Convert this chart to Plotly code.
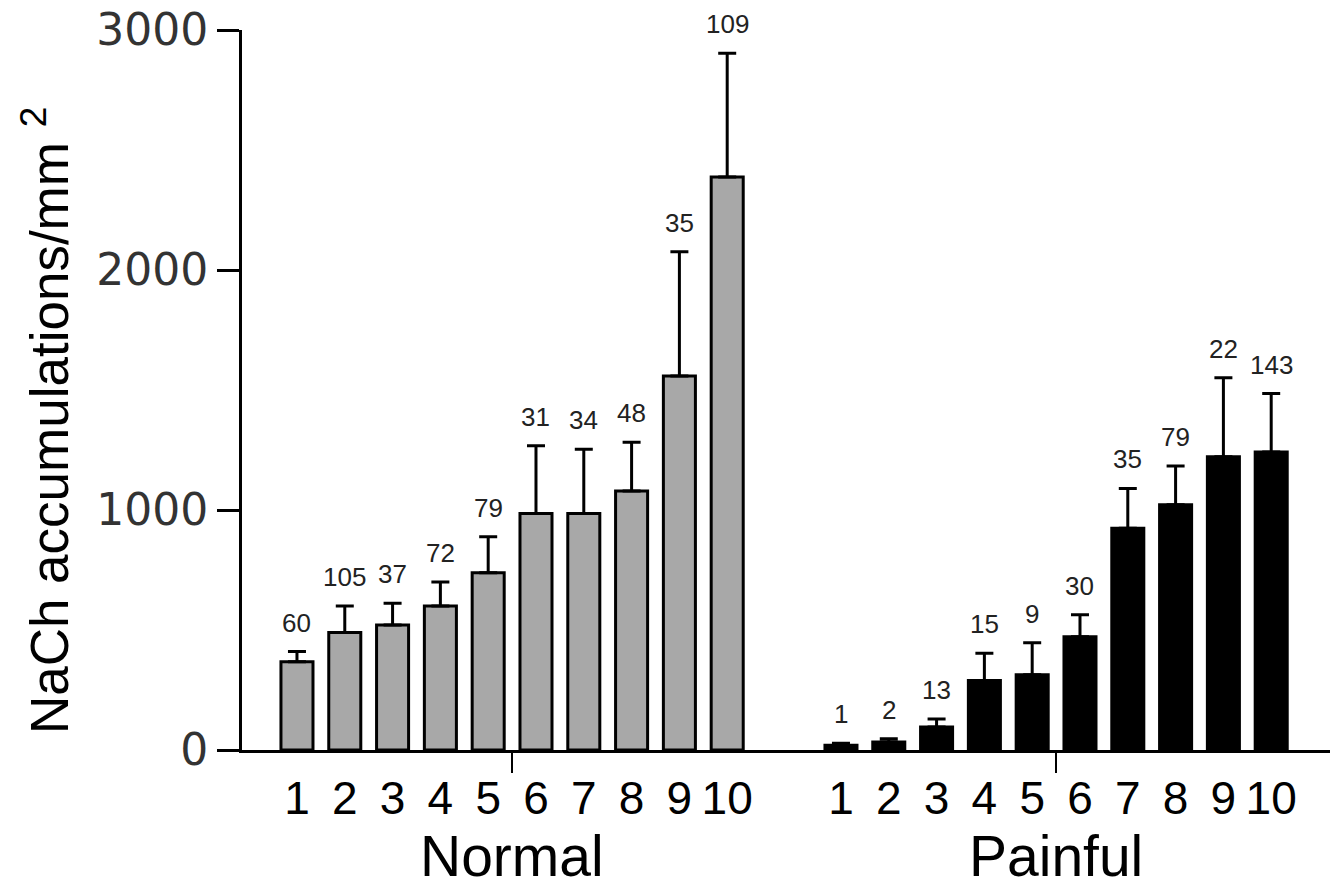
import plotly.graph_objects as go

# ---- data ----
categories = ["1", "2", "3", "4", "5", "6", "7", "8", "9", "10"]
groups = ["Normal", "Painful"]
normal_mean = [368, 490, 521, 600, 739, 985, 985, 1079, 1558, 2387]
normal_sem = [42, 110, 90, 100, 150, 283, 268, 203, 518, 516]
normal_n = [60, 105, 37, 72, 79, 31, 34, 48, 35, 109]
painful_mean = [20, 33, 96, 290, 314, 472, 924, 1022, 1222, 1242]
painful_sem = [8, 14, 33, 113, 133, 92, 166, 161, 329, 243]
painful_n = [1, 2, 13, 15, 9, 30, 35, 79, 22, 143]
y_ticks = [0, 1000, 2000, 3000]

# ---- positions ----
group_gap = 11.38
x_norm = [i + 1 for i in range(len(categories))]
x_pain = [x + group_gap for x in x_norm]
centers = [sum(x_norm) / len(x_norm), sum(x_pain) / len(x_pain)]
xrange = [-0.15, x_pain[-1] + 1.23]

arial = "Liberation Sans, Arial, sans-serif"

fig = go.Figure()

def add_group(xs, means, sems, fill):
    fig.add_trace(go.Bar(
        x=xs, y=means, width=0.67,
        marker=dict(color=fill, line=dict(color="black", width=3)),
        error_y=dict(type="data", symmetric=False, array=sems,
                     arrayminus=[0] * len(sems), color="black",
                     thickness=3, width=9),
        showlegend=False, hoverinfo="skip",
    ))

add_group(x_norm, normal_mean, normal_sem, "#a8a8a8")
add_group(x_pain, painful_mean, painful_sem, "#000000")

# invisible trace to anchor the secondary axis used for group tick marks
fig.add_trace(go.Scatter(x=centers, y=[0, 0], xaxis="x2", mode="markers",
                         marker=dict(opacity=0), showlegend=False,
                         hoverinfo="skip"))

annotations = []
for xs, means, sems, ns in ((x_norm, normal_mean, normal_sem, normal_n),
                            (x_pain, painful_mean, painful_sem, painful_n)):
    for x, m, s, n in zip(xs, means, sems, ns):
        annotations.append(dict(
            x=x, y=m + s, xref="x", yref="y", text=str(n), showarrow=False,
            yanchor="bottom", yshift=12,
            font=dict(family=arial, size=26, color="#222222")))

for c, g in zip(centers, groups):
    annotations.append(dict(
        x=c, y=-0.147, xref="x", yref="paper", text=g, showarrow=False,
        yanchor="middle", xanchor="center",
        font=dict(family=arial, size=57, color="black")))

annotations.append(dict(
    x=-0.18, y=0.457, xref="paper", yref="paper",
    text="NaCh accumulations/mm <sup>2</sup>", textangle=-90,
    showarrow=False, xanchor="center", yanchor="middle",
    font=dict(family=arial, size=53, color="black")))

fig.update_layout(
    width=1342, height=888,
    margin=dict(l=242, r=12, t=30, b=138),
    paper_bgcolor="white", plot_bgcolor="white",
    barmode="overlay",
    annotations=annotations,
    xaxis=dict(
        range=xrange, tickvals=x_norm + x_pain, ticktext=categories * 2,
        ticks="outside", ticklen=6, tickcolor="rgba(0,0,0,0)",
        showline=True, linecolor="black", linewidth=3,
        showgrid=False, zeroline=False, automargin=False,
        tickfont=dict(family=arial, size=46, color="black"),
    ),
    xaxis2=dict(
        range=xrange, overlaying="x", anchor="y", side="bottom",
        tickvals=centers, ticks="outside", ticklen=22, tickwidth=2,
        tickcolor="black", showticklabels=False, showline=False,
        showgrid=False, zeroline=False, automargin=False,
    ),
    yaxis=dict(
        range=[0, 3000], tickvals=y_ticks, ticks="outside", ticklen=22,
        tickwidth=3, tickcolor="black",
        showline=True, linecolor="black", linewidth=3,
        showgrid=False, zeroline=False, automargin=False,
        tickfont=dict(family="DejaVu Sans, sans-serif", size=44, color="#333333"),
    ),
)

fig.write_html("out.html", config={"displayModeBar": False},
               post_script="document.body.style.margin='0';")
